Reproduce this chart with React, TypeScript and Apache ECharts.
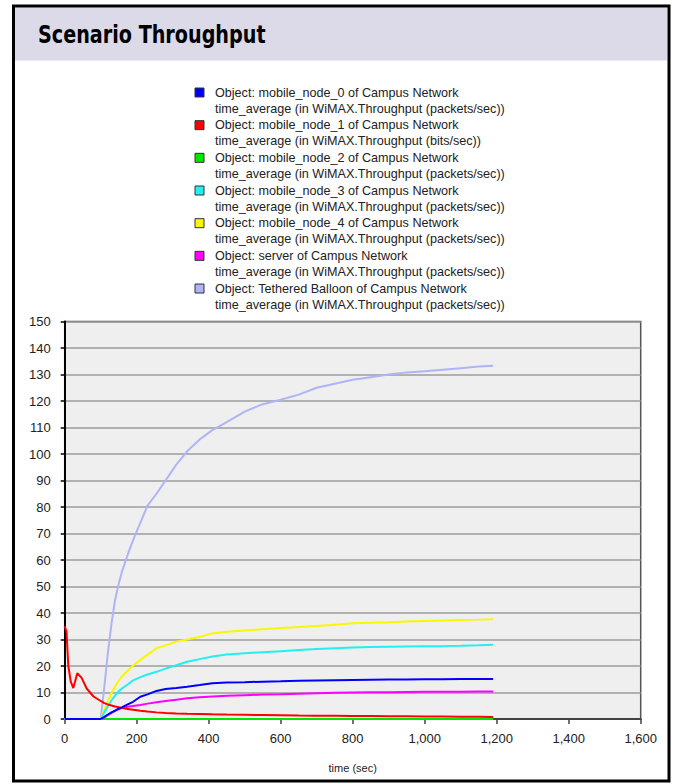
import React, { useEffect, useRef } from "react";
import * as echarts from "echarts";

const times = [0, 5, 10, 17, 24, 35, 47, 61, 80, 100, 110, 120, 130, 140, 150, 160, 175, 190, 210, 230, 255, 280, 310, 340, 375, 410, 450, 500, 550, 600, 650, 700, 750, 800, 850, 900, 950, 1000, 1050, 1100, 1150, 1190];

const node0 = [0, 0, 0, 0, 0, 0, 0, 0, 0, 0, 0.8, 1.7, 2.5, 3.2, 3.9, 4.5, 5.5, 6.5, 8.4, 9.3, 10.6, 11.3, 11.7, 12.2, 12.8, 13.5, 13.8, 13.9, 14.1, 14.2, 14.4, 14.5, 14.6, 14.7, 14.8, 14.9, 14.9, 15.0, 15.0, 15.1, 15.1, 15.1];
const node1 = [35, 33, 20, 14, 11.7, 17.3, 15.5, 11.5, 8.5, 6.8, 6.0, 5.5, 5.1, 4.7, 4.4, 4.1, 3.8, 3.5, 3.1, 2.8, 2.5, 2.3, 2.1, 2.0, 1.9, 1.8, 1.7, 1.6, 1.5, 1.4, 1.3, 1.25, 1.2, 1.15, 1.1, 1.05, 1.0, 0.95, 0.9, 0.85, 0.82, 0.8];
const node2 = [0, 0, 0, 0, 0, 0, 0, 0, 0, 0, 0, 0, 0, 0, 0, 0, 0, 0, 0, 0, 0, 0, 0, 0, 0, 0, 0, 0, 0, 0, 0, 0, 0, 0, 0, 0, 0, 0, 0, 0, 0, 0];
const node3 = [0, 0, 0, 0, 0, 0, 0, 0, 0, 0, 2.5, 4.8, 7, 8.8, 10.5, 11.6, 13, 14.6, 15.8, 16.8, 17.8, 19, 20.3, 21.6, 22.6, 23.6, 24.3, 24.8, 25.2, 25.6, 26, 26.4, 26.7, 27, 27.2, 27.3, 27.4, 27.5, 27.5, 27.6, 27.8, 28];
const node4 = [0, 0, 0, 0, 0, 0, 0, 0, 0, 0, 3.5, 6.8, 9.8, 12.3, 14.5, 16.2, 18.2, 20.2, 22.3, 24.3, 26.7, 27.8, 29.2, 30, 31, 32.3, 32.9, 33.4, 33.9, 34.3, 34.7, 35.1, 35.6, 36.1, 36.3, 36.5, 36.8, 37, 37.2, 37.4, 37.5, 37.6];
const server = [0, 0, 0, 0, 0, 0, 0, 0, 0, 0, 0.6, 1.5, 2.3, 3.1, 3.7, 4.2, 4.6, 4.9, 5.3, 5.8, 6.3, 6.8, 7.3, 7.8, 8.2, 8.5, 8.8, 9.0, 9.2, 9.3, 9.5, 9.7, 9.9, 10, 10.1, 10.1, 10.2, 10.3, 10.3, 10.3, 10.4, 10.4];
const balloon = [0, 0, 0, 0, 0, 0, 0, 0, 0, 0, 12, 25, 36, 45, 51, 56, 62, 67.5, 74, 80.5, 85, 90, 96, 101, 105.5, 109, 112, 116, 118.8, 120.5, 122.4, 125, 126.5, 128, 129, 130, 130.8, 131.2, 131.8, 132.4, 133, 133.3];

const titleText = "Scenario Throughput";
const xAxisName = "time (sec)";

const legendLine1 = [
  "Object: mobile_node_0 of Campus Network",
  "Object: mobile_node_1 of Campus Network",
  "Object: mobile_node_2 of Campus Network",
  "Object: mobile_node_3 of Campus Network",
  "Object: mobile_node_4 of Campus Network",
  "Object: server of Campus Network",
  "Object: Tethered Balloon of Campus Network",
];
const legendLine2 = [
  "time_average (in WiMAX.Throughput (packets/sec))",
  "time_average (in WiMAX.Throughput (bits/sec))",
  "time_average (in WiMAX.Throughput (packets/sec))",
  "time_average (in WiMAX.Throughput (packets/sec))",
  "time_average (in WiMAX.Throughput (packets/sec))",
  "time_average (in WiMAX.Throughput (packets/sec))",
  "time_average (in WiMAX.Throughput (packets/sec))",
];
const seriesNames = ["mobile_node_0", "mobile_node_1", "mobile_node_2", "mobile_node_3", "mobile_node_4", "server", "Tethered Balloon"];
const colors = ["#0000ff", "#ff0000", "#00e600", "#22f0f0", "#f8f800", "#ff00ff", "#b0b4f6"];
const seriesData = [node0, node1, node2, node3, node4, server, balloon];
// drawing order (last on top)
const drawOrder = [2, 5, 6, 4, 3, 1, 0];

export default function App() {
  const ref = useRef<HTMLDivElement>(null);
  useEffect(() => {
    if (!ref.current) return;
    const chart = echarts.init(ref.current, null, { renderer: "svg" });
    const font = "'Liberation Sans', Arial, sans-serif";
    const legendGraphics: any[] = [];
    legendLine1.forEach((t, i) => {
      const y0 = 92.5 + i * 32.67;
      legendGraphics.push({
        type: "rect",
        shape: { x: 195, y: y0 - 4.5, width: 9, height: 9 },
        style: { fill: colors[i], stroke: "#333", lineWidth: 1 },
      });
      legendGraphics.push({
        type: "text",
        x: 215,
        y: y0,
        style: { text: t, fill: "#222", font: `12.6px ${font}`, textVerticalAlign: "middle", verticalAlign: "middle" },
      });
      legendGraphics.push({
        type: "text",
        x: 215,
        y: y0 + 16.3,
        style: { text: legendLine2[i], fill: "#222", font: `12.6px ${font}`, textVerticalAlign: "middle", verticalAlign: "middle" },
      });
    });

    chart.setOption({
      animation: false,
      backgroundColor: "#ffffff",
      graphic: [
        {
          type: "rect",
          shape: { x: 15, y: 7.5, width: 652, height: 53 },
          style: { fill: "#dcdae8" },
          z: -10,
        },
        {
          type: "rect",
          shape: { x: 13.5, y: 6, width: 655.5, height: 775 },
          style: { fill: "none", stroke: "#000", lineWidth: 3 },
        },
        {
          type: "text",
          x: 38,
          y: 33.5,
          scaleX: 0.853,
          style: {
            text: titleText,
            fill: "#000",
            font: "bold 25px 'DejaVu Sans Condensed', 'Liberation Sans Narrow', sans-serif",
            verticalAlign: "middle",
            textVerticalAlign: "middle",
          },
        },
        ...legendGraphics,
      ],
      grid: {
        left: 64.7,
        right: 33.3,
        top: 321.5,
        bottom: 65,
        show: true,
        backgroundColor: "#efefef",
        borderColor: "#555",
        borderWidth: 1.5,
      },
      xAxis: {
        type: "value",
        min: 0,
        max: 1600,
        interval: 200,
        name: xAxisName,
        nameLocation: "middle",
        nameGap: 43,
        nameTextStyle: { fontFamily: font, fontSize: 11, color: "#222" },
        axisLine: { show: true, lineStyle: { color: "#444", width: 2 } },
        axisTick: { show: true, length: 5, lineStyle: { color: "#444", width: 1.5 } },
        axisLabel: {
          fontFamily: font,
          fontSize: 13,
          color: "#222",
          margin: 13,
          formatter: (v: number) => v.toLocaleString("en-US"),
        },
        splitLine: { show: false },
      },
      yAxis: {
        type: "value",
        min: 0,
        max: 150,
        interval: 10,
        axisLine: { show: true, lineStyle: { color: "#000", width: 2 } },
        axisTick: { show: true, length: 4, lineStyle: { color: "#000", width: 1.5 } },
        axisLabel: { fontFamily: font, fontSize: 13, color: "#222", margin: 14 },
        splitLine: {
          show: true,
          lineStyle: { color: "#9c9c9c", width: 1.6 },
        },
      },
      series: drawOrder.map((i) => ({
        name: seriesNames[i],
        type: "line",
        showSymbol: false,
        symbol: "none",
        data: times.map((t, k) => [t, seriesData[i][k]]),
        lineStyle: { color: colors[i], width: 2 },
        itemStyle: { color: colors[i] },
      })),
    });
    return () => chart.dispose();
  }, []);
  return (
    <div
      ref={ref}
      style={{ position: "fixed", left: 0, top: 0, width: 674, height: 784, background: "#fff" }}
    />
  );
}
